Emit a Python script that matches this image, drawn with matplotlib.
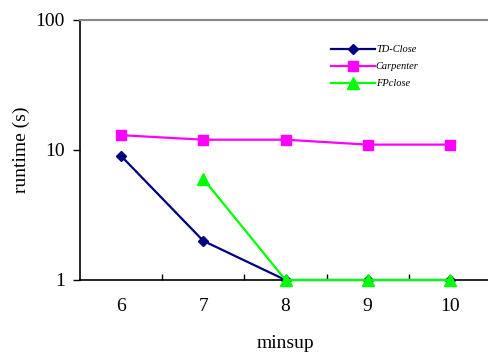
import matplotlib
matplotlib.use("Agg")
import matplotlib.pyplot as plt
from matplotlib.ticker import FixedLocator, NullLocator, FixedFormatter, NullFormatter

plt.rcParams['font.family'] = ['Liberation Serif']

minsup = [6, 7, 8, 9, 10]
td_close = [9, 2, 1, 1, 1]
carpenter = [13, 12, 12, 11, 11]
fp_minsup = [7, 8, 9, 10]
fp_close = [6, 1, 1, 1]

fig = plt.figure(figsize=(4.89, 3.56), dpi=100)
ax = fig.add_axes([80/489, 76/356, 411/489, 260/356])

ax.plot(minsup, td_close, color="#000080", marker="D", markersize=5, lw=1.6, label="TD-Close", clip_on=False, zorder=3)
ax.plot(minsup, carpenter, color="#FF00FF", marker="s", markersize=7, lw=1.6, label="Carpenter", clip_on=False, zorder=3)
ax.plot(fp_minsup, fp_close, color="#00FF00", marker="^", markersize=8, lw=1.6, label="FPclose", clip_on=False, zorder=4)

ax.set_yscale("log")
ax.set_ylim(1, 100)
ax.set_xlim(5.5, 10.5)

ax.yaxis.set_major_locator(FixedLocator([1, 10, 100]))
ax.yaxis.set_major_formatter(FixedFormatter(["1", "10", "100"]))
ax.yaxis.set_minor_locator(NullLocator())
ax.tick_params(axis="y", which="major", direction="out", length=5, width=1, labelsize=14, pad=6)

ax.set_xticks(minsup)
ax.set_xticklabels([str(m) for m in minsup])
ax.xaxis.set_minor_locator(FixedLocator([6.5, 7.5, 8.5, 9.5]))
ax.xaxis.set_minor_formatter(NullFormatter())
ax.tick_params(axis="x", which="major", length=0, labelsize=14, pad=13)
ax.tick_params(axis="x", which="minor", direction="in", length=4, width=1)

ax.spines["right"].set_visible(False)
ax.spines["top"].set_color("#888888")
ax.spines["top"].set_linewidth(1.5)
ax.spines["left"].set_linewidth(1.2)
ax.spines["bottom"].set_linewidth(1.2)

ax.set_xlabel("minsup", fontsize=14, labelpad=14)
ax.set_ylabel("runtime (s)", fontsize=14, labelpad=4)

leg = ax.legend(loc="upper left", bbox_to_anchor=(0.588, 0.94), frameon=False,
                prop={"style": "italic", "size": 7.5}, handlelength=4.2,
                labelspacing=0.75, handletextpad=0.1)

fig.savefig("out.png", dpi=100)
